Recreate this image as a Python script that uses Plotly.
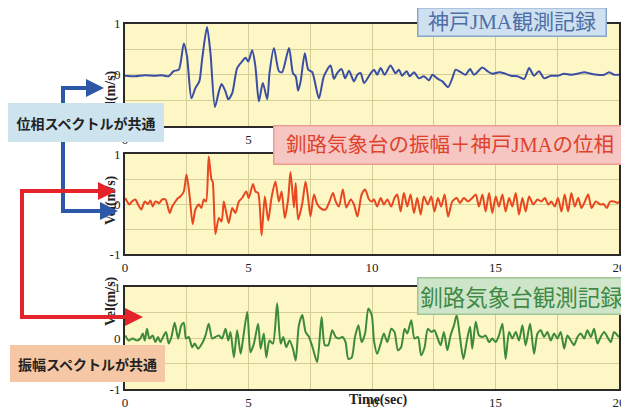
import plotly.graph_objects as go

W, H = 629, 415
OFF = 8  # the page body has an 8px margin; the figure is drawn 8px right/down

# ---------------- data ----------------
# Panel 1: 神戸JMA観測記録 (blue)
kobe_t = [0.0, 0.4, 0.8, 1.2, 1.5, 1.77, 1.97, 2.18, 2.38, 2.51, 2.69, 2.85, 3.01, 3.12, 3.32,
          3.46, 3.64, 3.80, 3.91, 4.07, 4.18, 4.34, 4.54, 4.74, 4.88, 4.99, 5.15, 5.28, 5.42,
          5.58, 5.76, 5.85, 6.03, 6.23, 6.36, 6.64, 6.80, 6.91, 7.01, 7.11, 7.28, 7.42, 7.58,
          7.85, 8.05, 8.32, 8.46, 8.59, 8.77, 8.91, 9.07, 9.27, 9.41, 9.54, 9.68, 9.95,
          10.08, 10.21, 10.35, 10.51, 10.75, 10.95, 11.09, 11.22, 11.40, 11.53, 11.70, 11.90,
          12.10, 12.31, 12.44, 12.64, 12.85, 13.08, 13.25, 13.39, 13.59, 13.79, 13.97, 14.13,
          14.47, 14.67, 14.87, 15.14, 15.35, 15.62, 15.89, 16.16, 16.36, 16.56, 16.76, 16.97,
          17.24, 17.51, 17.78, 18.05, 18.32, 18.59, 18.86, 19.13, 19.40, 19.60, 19.81, 20.0]
kobe_v = [-0.02, -0.03, -0.01, -0.02, -0.01, -0.03, 0.07, 0.10, 0.61, 0.36, -0.46, -0.26, -0.13, 0.29, 0.93,
          0.42, -0.63, -0.33, -0.18, -0.33, -0.48, -0.36, 0.13, 0.26, 0.33, 0.26, 0.48, 0.16, -0.52,
          -0.16, -0.48, 0.03, 0.52, 0.07, 0.05, 0.52, 0.03, -0.03, -0.31, -0.13, 0.42, 0.10, 0.05,
          -0.46, -0.03, 0.18, -0.08, 0.03, 0.11, -0.07, 0.08, -0.13, 0.0, 0.03, -0.16, 0.03,
          0.10, 0.0, 0.13, 0.0, 0.18, 0.03, 0.10, -0.02, 0.07, -0.03, 0.05, -0.07,
          -0.03, -0.11, 0.0, -0.07, -0.13, -0.24, -0.07, 0.10, 0.05, 0.0, 0.11, 0.0,
          0.14, 0.07, 0.02, 0.05, 0.03, -0.02, -0.03, -0.08, 0.13, -0.02, 0.07, -0.07,
          -0.02, -0.02, 0.02, 0.0, 0.02, 0.05, 0.02, 0.0, 0.0, 0.05, 0.0, 0.0]

# Panel 2: 釧路気象台の振幅＋神戸JMAの位相 (red)
mix_t = [0.01, 0.18, 0.28, 0.42, 0.53, 0.66, 0.80, 0.93, 1.03, 1.12, 1.23, 1.39, 1.50, 1.64, 1.81,
         1.91, 2.04, 2.15, 2.24, 2.38, 2.49, 2.61, 2.74, 2.85, 2.99, 3.09, 3.19, 3.28, 3.39, 3.50,
         3.55, 3.66, 3.80, 3.91, 4.00, 4.09, 4.20, 4.34, 4.47, 4.61, 4.74, 4.91, 5.01, 5.18, 5.28,
         5.39, 5.53, 5.66, 5.80, 5.93, 6.09, 6.23, 6.34, 6.47, 6.61, 6.70, 6.84, 6.91, 7.01, 7.18,
         7.31, 7.42, 7.51, 7.65, 7.78, 7.96, 8.12, 8.28, 8.42, 8.53, 8.66, 8.82, 8.96, 9.14, 9.27,
         9.41, 9.58, 9.72, 9.88, 9.99,
         10.08, 10.21, 10.35, 10.48, 10.62, 10.78, 10.91, 11.02, 11.16, 11.29, 11.43, 11.56, 11.70,
         11.83, 11.97, 12.10, 12.26, 12.40, 12.53, 12.67, 12.80, 12.94, 13.08, 13.25, 13.43, 13.56,
         13.72, 13.89, 14.06, 14.20, 14.33, 14.47, 14.60, 14.74, 14.87, 15.01, 15.14, 15.28, 15.41,
         15.55, 15.68, 15.82, 15.95, 16.09, 16.22, 16.36, 16.53, 16.70, 16.86, 17.00, 17.13, 17.26,
         17.40, 17.53, 17.67, 17.80, 17.94, 18.07, 18.21, 18.35, 18.48, 18.62, 18.75, 18.89, 19.06,
         19.24, 19.37, 19.51, 19.64, 19.80, 19.94, 20.0]
mix_v = [0.12, -0.01, 0.05, 0.09, -0.01, -0.11, 0.05, 0.0, 0.07, -0.05, 0.05, 0.02, 0.09, 0.09, -0.18,
         -0.05, 0.05, 0.12, 0.15, 0.25, 0.59, 0.19, -0.40, -0.11, -0.01, -0.08, 0.09, 0.05, 0.95, 0.49,
         0.45, -0.60, -0.28, -0.35, 0.05, -0.15, -0.38, -0.08, -0.18, 0.05, 0.12, 0.25, 0.12, 0.40, 0.25,
         0.22, -0.63, 0.15, -0.33, 0.12, 0.45, 0.05, 0.25, -0.28, 0.12, 0.64, -0.07, 0.42, -0.31, 0.02,
         0.45, 0.09, -0.25, 0.19, 0.0, -0.10, -0.11, 0.05, 0.22, 0.05, -0.05, 0.29, -0.07, 0.09, -0.01,
         -0.25, 0.19, 0.29, 0.09, 0.05,
         0.09, -0.05, 0.12, -0.01, 0.09, -0.05, 0.12, 0.19, -0.15, 0.22, -0.05, 0.19, -0.18,
         0.12, -0.21, 0.15, -0.01, 0.15, -0.15, 0.12, -0.05, 0.19, -0.25, 0.05, 0.12, 0.02,
         0.12, 0.05, 0.12, 0.19, -0.05, 0.19, -0.15, 0.22, -0.18, 0.15, -0.05, 0.19, -0.15,
         0.12, -0.05, 0.22, -0.21, 0.12, -0.15, 0.15, -0.01, 0.09, 0.05, 0.12, -0.01, 0.05,
         -0.05, 0.12, -0.15, 0.19, -0.15, 0.22, -0.05, 0.12, -0.08, 0.05, 0.19, -0.08, 0.05,
         -0.01, 0.0, -0.08, 0.05, 0.05, 0.02, 0.05]

# Panel 3: 釧路気象台観測記録 (green)
kushiro_t = [0.01, 0.15, 0.31, 0.49, 0.62, 0.72, 0.80, 0.89, 0.99, 1.12, 1.23, 1.34, 1.43, 1.57, 1.66,
             1.77, 1.88, 2.01, 2.15, 2.28, 2.38, 2.47, 2.58, 2.72, 2.82, 2.96, 3.12, 3.26, 3.39, 3.53,
             3.66, 3.80, 3.93, 4.07, 4.18, 4.27, 4.41, 4.54, 4.68, 4.77, 4.95, 5.08, 5.22, 5.39, 5.49,
             5.62, 5.72, 5.85, 5.99, 6.16, 6.30, 6.41, 6.53, 6.66, 6.80, 6.91, 7.04, 7.18, 7.31, 7.45,
             7.61, 7.78, 7.96, 8.09, 8.23, 8.39, 8.53, 8.66, 8.80, 8.93, 9.04, 9.18, 9.31, 9.45, 9.58,
             9.72, 9.85, 9.99,
             10.08, 10.21, 10.35, 10.48, 10.62, 10.78, 10.91, 11.05, 11.18, 11.32, 11.43, 11.59, 11.72,
             11.86, 11.99, 12.13, 12.26, 12.40, 12.53, 12.64, 12.78, 12.91, 13.05, 13.18, 13.32, 13.43,
             13.56, 13.70, 13.83, 13.97, 14.06, 14.20, 14.33, 14.47, 14.60, 14.74, 14.87, 15.01, 15.14,
             15.28, 15.41, 15.55, 15.68, 15.82, 15.95, 16.09, 16.22, 16.40, 16.56, 16.70, 16.83, 16.97,
             17.10, 17.24, 17.37, 17.51, 17.64, 17.78, 17.91, 18.05, 18.18, 18.32, 18.45, 18.59, 18.72,
             18.86, 18.99, 19.13, 19.26, 19.40, 19.53, 19.67, 19.80, 19.94, 20.0]
kushiro_v = [0.05, -0.05, -0.01, -0.05, -0.01, 0.09, -0.05, 0.18, -0.01, 0.05, -0.08, 0.02, -0.08, 0.05, 0.12,
             -0.11, 0.02, 0.30, -0.01, 0.25, 0.30, -0.01, 0.02, -0.18, -0.11, -0.21, -0.11, 0.05, 0.28, -0.01,
             0.02, 0.05, -0.01, 0.18, -0.05, 0.12, -0.38, 0.15, -0.31, -0.05, 0.51, -0.28, -0.11, 0.28, -0.21,
             0.09, -0.38, -0.05, -0.11, 0.68, -0.11, 0.02, -0.18, -0.05, -0.21, -0.44, 0.25, 0.45, 0.12, 0.02,
             -0.21, -0.47, 0.41, -0.14, -0.14, 0.15, 0.02, -0.01, 0.02, -0.08, -0.41, -0.38, 0.02, 0.25, -0.08,
             0.09, 0.58, 0.45,
             -0.05, -0.31, -0.11, 0.09, -0.08, 0.18, 0.12, -0.24, -0.18, 0.18, 0.09, 0.35, -0.01,
             0.02, -0.34, -0.18, 0.18, 0.12, 0.15, 0.02, -0.14, 0.12, -0.24, 0.05, 0.25, 0.45,
             0.02, -0.41, -0.08, 0.22, -0.21, 0.32, 0.05, 0.02, 0.05, -0.08, -0.01, -0.08, 0.05,
             0.28, -0.41, 0.12, -0.01, 0.12, -0.05, 0.25, -0.14, 0.28, -0.31, 0.09, 0.15, 0.02,
             0.12, -0.05, 0.09, -0.01, 0.12, -0.21, 0.05, -0.05, -0.14, 0.02, 0.09, -0.01, 0.15,
             0.02, 0.18, -0.11, 0.02, 0.12, 0.02, -0.08, 0.12, 0.05, 0.02]

x_ticks = [0, 2.5, 5, 7.5, 10, 12.5, 15, 17.5, 20]
x_tick_text = ["0", "", "5", "", "10", "", "15", "", "20"]
y_ticks = [-1, -0.5, 0, 0.5, 1]
y_tick_text = ["-1", "", "0", "", "1"]

titles = ["神戸JMA観測記録", "釧路気象台の振幅＋神戸JMAの位相", "釧路気象台観測記録"]
label_phase = "位相スペクトルが共通"
label_amp = "振幅スペクトルが共通"

# ---------------- helpers (window pixel -> paper fraction) ----------------
FW, FH = W - OFF, H - OFF

def PX(x):
    return (x - OFF) / FW

def PY(y):
    return 1 - (y - OFF) / FH

SERIF = "Liberation Serif, Times New Roman, serif"
CJK = "Noto Sans CJK JP"

panels = [  # (top px, bottom px)
    (23.5, 126),
    (154, 254),
    (287, 389),
]
x_dom = [PX(125), PX(619)]

fig = go.Figure()
series = [(kobe_t, kobe_v, "#3a4ea3"), (mix_t, mix_v, "#e8471f"), (kushiro_t, kushiro_v, "#3d8a3a")]
for i, (t, v, c) in enumerate(series):
    n = "" if i == 0 else str(i + 1)
    fig.add_trace(go.Scatter(x=t, y=v, mode="lines",
                             line=dict(color=c, width=2, shape="spline", smoothing=0.7),
                             xaxis="x" + n, yaxis="y" + n, showlegend=False, hoverinfo="skip"))

axis_common = dict(showline=True, mirror=True, linecolor="#2a2a2a", linewidth=2,
                   showgrid=True, gridcolor="#d4cd98", gridwidth=1, zeroline=False,
                   automargin=False, ticks="", ticklabeloverflow="allow",
                   tickfont=dict(family=SERIF, size=13, color="#222"))
layout = dict(width=FW, height=FH, margin=dict(l=0, r=0, t=0, b=0, pad=0, autoexpand=False),
              template="none", paper_bgcolor="white", plot_bgcolor="#fcf7c4", showlegend=False)
for i, (top, bot) in enumerate(panels):
    n = "" if i == 0 else str(i + 1)
    layout["xaxis" + n] = dict(axis_common, domain=x_dom, range=[0, 20], tickvals=x_ticks,
                               ticktext=x_tick_text, anchor="y" + n)
    layout["yaxis" + n] = dict(axis_common, domain=[PY(bot), PY(top)], range=[-1, 1],
                               tickvals=y_ticks, ticktext=y_tick_text, anchor="x" + n)
fig.update_layout(**layout)

annotations = []
# y axis titles
for yc in (68, 200, 328):
    annotations.append(dict(x=PX(101), y=PY(yc), xref="paper", yref="paper", showarrow=False,
                            text="<b>Vel(m/s)</b>", textangle=-90,
                            font=dict(family=SERIF, size=14, color="#222")))
annotations.append(dict(x=PX(378), y=PY(410), xref="paper", yref="paper", showarrow=False,
                        text="<b>Time(sec)</b>", font=dict(family=SERIF, size=14, color="#222")))

BLUE = "#2d58a8"
RED = "#e5232a"
shapes = [
    dict(type="line", xref="paper", yref="paper", x0=PX(63), x1=PX(63), y0=PY(86), y1=PY(213),
         line=dict(color=BLUE, width=4), layer="above"),
    dict(type="line", xref="paper", yref="paper", x0=PX(22), x1=PX(22), y0=PY(189), y1=PY(319),
         line=dict(color=RED, width=4), layer="above"),
]

def arrow(x0, y0, x1, y1, color):
    return dict(x=PX(x1), y=PY(y1), ax=x0 - x1, ay=y0 - y1, xref="paper", yref="paper",
                axref="pixel", ayref="pixel", text="", showarrow=True, arrowhead=2,
                arrowsize=0.9, arrowwidth=4, arrowcolor=color, standoff=0, startstandoff=0)

annotations += [
    arrow(61, 88, 104, 88, BLUE),
    arrow(61, 211, 118, 211, BLUE),
    arrow(20, 191, 116, 191, RED),
    arrow(20, 317, 143, 317, RED),
]

def box(text, x0, x1, y0, y1, fill, border, color, size, family, weight="normal"):
    return dict(x=PX((x0 + x1) / 2), y=PY((y0 + y1) / 2), xref="paper", yref="paper",
                showarrow=False, text=text, width=x1 - x0 - 6, height=y1 - y0 - 6,
                bgcolor=fill, bordercolor=border, borderwidth=1.5, borderpad=2,
                font=dict(family=family, size=size, color=color, weight=weight),
                xanchor="center", yanchor="middle", align="center", valign="middle")

annotations += [
    box(label_phase, 8, 163, 103, 141, "#cde3ee", "#cde3ee", "#222", 14, CJK, "bold"),
    box(label_amp, 10, 164, 345, 381, "#f6c7a4", "#f6c7a4", "#222", 14, CJK, "bold"),
    box(titles[0], 417, 606, 8, 37, "#cfe0f1", "#86a6cc", "#4d6fa6", 21,
        "Liberation Serif, " + CJK),
    box(titles[1], 274, 627, 125, 164, "#f6c6c2", "#ea9d93", "#e0412c", 20.5,
        "Liberation Serif, " + CJK),
    box(titles[2], 417, 625, 277, 314, "#cfe5c9", "#9fc693", "#3f8a45", 22.5, CJK),
]

fig.update_layout(annotations=annotations, shapes=shapes)
fig.write_html("out.html")
